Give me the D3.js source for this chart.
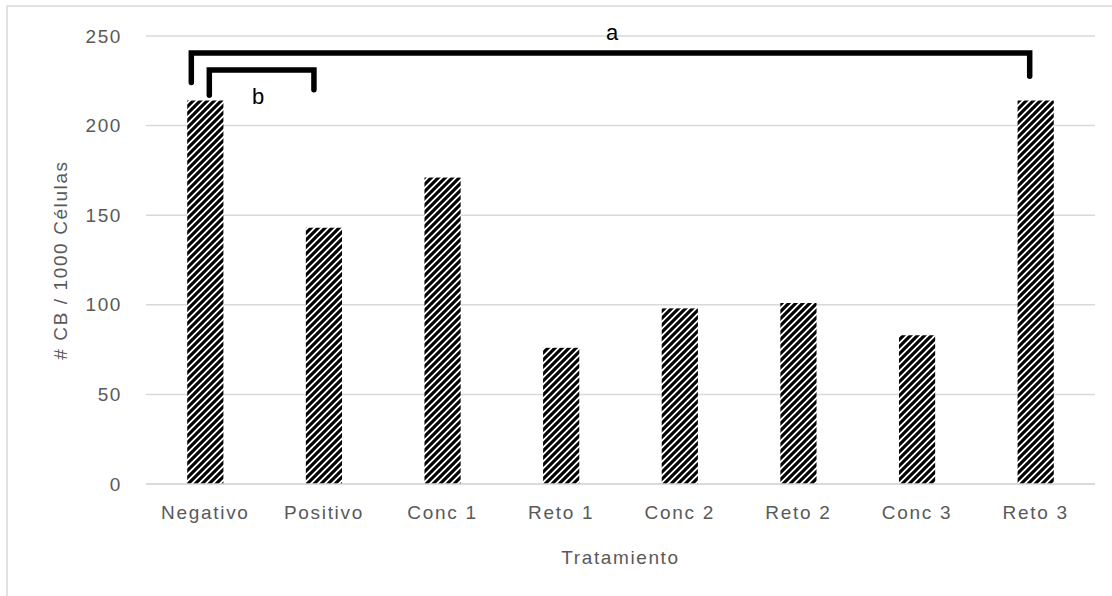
<!DOCTYPE html>
<html>
<head>
<meta charset="utf-8">
<script src="https://cdn.jsdelivr.net/npm/d3@7"></script>
<style>
  body { margin: 0; background: #fff; }
  svg { display: block; }
</style>
</head>
<body>
<svg id="chart" width="1112" height="596"></svg>
<script>
const categories = ["Negativo", "Positivo", "Conc 1", "Reto 1", "Conc 2", "Reto 2", "Conc 3", "Reto 3"];
const values = [214, 143, 171, 76, 98, 101, 83, 214];
const yTicks = [0, 50, 100, 150, 200, 250];
const xTitle = "Tratamiento";
const yTitle = "# CB / 1000 Células";
// significance brackets: from category, to category, bar height level, leg ends
const bracketLabels = ["a", "b"];
const bracketFrom = ["Negativo", "Negativo"];
const bracketTo = ["Reto 3", "Positivo"];
const bracketLevel = [240.5, 231];
const bracketLegFrom = [224, 217];
const bracketLegTo = [227.5, 220];

const svg = d3.select("#chart");
const W = 1112, H = 596;
const m = { left: 146, right: 17, top: 36, bottom: 112 };
const FONT = "Liberation Sans, Arial, sans-serif";

// outer frame
svg.append("rect").attr("x", 7).attr("y", 6).attr("width", W + 10).attr("height", H + 10)
  .attr("fill", "none").attr("stroke", "#d9d9d9").attr("stroke-width", 1.5);

const x = d3.scaleBand().domain(categories).range([m.left, W - m.right]).paddingInner(0.695).paddingOuter(0.3475);
const y = d3.scaleLinear().domain([0, 250]).range([H - m.bottom, m.top]);

const defs = svg.append("defs");
const P = 7;
const pat = defs.append("pattern").attr("id", "hatch").attr("patternUnits", "userSpaceOnUse")
  .attr("width", P).attr("height", P);
pat.append("rect").attr("width", P).attr("height", P).attr("fill", "#fff");
pat.append("path").attr("d", `M-1,${P + 1} L${P + 1},-1 M-${P / 2},${P / 2} L${P / 2},-${P / 2} M${P / 2},${P * 1.5} L${P * 1.5},${P / 2}`)
  .attr("stroke", "#000").attr("stroke-width", 3.1);

// gridlines
const grid = svg.append("g");
grid.selectAll("line").data(yTicks).join("line")
  .attr("x1", m.left).attr("x2", W - m.right)
  .attr("y1", d => y(d)).attr("y2", d => y(d))
  .attr("stroke", "#d9d9d9").attr("stroke-width", 1.5);

// y axis labels
const yAxis = d3.axisLeft(y).tickValues(yTicks).tickSize(0).tickPadding(24);
const gy = svg.append("g").attr("transform", `translate(${m.left},0)`).call(yAxis);
gy.select(".domain").remove();
gy.selectAll("text").attr("fill", "#595959").style("font-family", FONT)
  .style("font-size", "19px").style("letter-spacing", "1.6px");

// bars
svg.append("g").selectAll("rect").data(categories).join("rect")
  .attr("x", d => x(d)).attr("width", x.bandwidth())
  .attr("y", (d, i) => y(values[i])).attr("height", (d, i) => y(0) - y(values[i]))
  .attr("fill", "url(#hatch)");

// x axis
const xAxis = d3.axisBottom(x).tickSize(0).tickPadding(22);
const gx = svg.append("g").attr("transform", `translate(0,${y(0)})`).call(xAxis);
gx.select(".domain").attr("stroke", "#d9d9d9").attr("stroke-width", 1.5)
  .attr("d", `M${m.left},0H${W - m.right}`);
gx.selectAll("text").attr("fill", "#595959").style("font-family", FONT)
  .style("font-size", "19px").style("letter-spacing", "1.7px");

// axis titles
svg.append("text").attr("x", (m.left + W - m.right) / 2).attr("y", 564)
  .attr("text-anchor", "middle").attr("fill", "#595959")
  .style("font-family", FONT).style("font-size", "19px").style("letter-spacing", "1.6px")
  .text(xTitle);
svg.append("text").attr("transform", `translate(67,${260}) rotate(-90)`)
  .attr("text-anchor", "middle").attr("fill", "#595959")
  .style("font-family", FONT).style("font-size", "19px").style("letter-spacing", "1.6px")
  .text(yTitle);

// brackets
const fromOff = [-14, 4], toOff = [-6, -10];
const bg = svg.append("g");
bracketLabels.forEach((lab, i) => {
  const x1 = x(bracketFrom[i]) + x.bandwidth() / 2 + fromOff[i];
  const x2 = x(bracketTo[i]) + x.bandwidth() / 2 + toOff[i];
  const yl = y(bracketLevel[i]);
  bg.append("path")
    .attr("d", `M${x1},${y(bracketLegFrom[i])}V${yl}H${x2}V${y(bracketLegTo[i])}`)
    .attr("fill", "none").attr("stroke", "#000").attr("stroke-width", 5.5)
    .attr("stroke-linejoin", "miter").attr("stroke-linecap", "round");
});
svg.append("text").attr("x", 612).attr("y", y(bracketLevel[0]) - 13).attr("text-anchor", "middle")
  .style("font-family", FONT).style("font-size", "22px").attr("fill", "#000")
  .text(bracketLabels[0]);
svg.append("text").attr("x", 258).attr("y", 104).attr("text-anchor", "middle")
  .style("font-family", FONT).style("font-size", "22px").attr("fill", "#000")
  .text(bracketLabels[1]);
</script>
</body>
</html>
